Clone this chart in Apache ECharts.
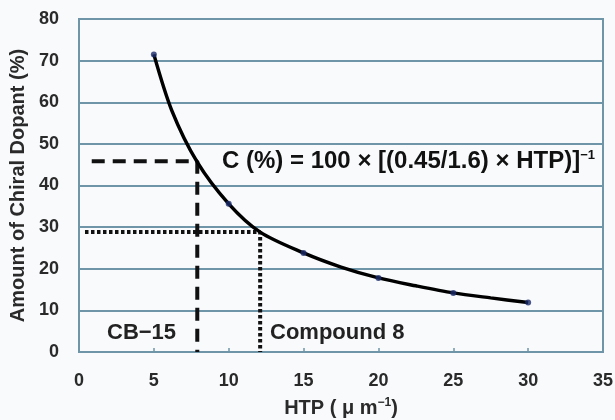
<!DOCTYPE html>
<html><head><meta charset="utf-8">
<script src="https://cdn.jsdelivr.net/npm/echarts@6/dist/echarts.min.js"></script>
<style>html,body{margin:0;padding:0;background:#f8fafc}#c{width:615px;height:420px}</style>
</head><body><div id="c"></div>
<script>
// measured points: HTP (μm^-1) and chiral dopant amount (%)
var htp = [5, 10, 15, 20, 25, 30];
var dopant = [71.5, 35.6, 23.8, 17.8, 14.2, 11.9];
// fitted curve
var curveX = [5, 6.2, 7.9, 10, 12.1, 15, 17.5, 20, 22.5, 25, 27.5, 30];
var curveY = [71.5, 58, 45.6, 35.6, 28.8, 23.8, 20.4, 17.8, 15.9, 14.2, 13.0, 11.9];
// reference guide lines
var cb15Line = [[0.85, 45.8], [7.9, 45.8], [7.9, 0]];
var compound8Line = [[0.4, 28.8], [12.1, 28.8], [12.1, 0]];
var xTicks = [0, 5, 10, 15, 20, 25, 30, 35];
var yTicks = [0, 10, 20, 30, 40, 50, 60, 70, 80];

var font = '"Liberation Sans", Arial, sans-serif';
var gridColor = '#6f95a8';
var chart = echarts.init(document.getElementById('c'));
chart.setOption({
  backgroundColor: '#f8fafc',
  animation: false,
  grid: {left: 79, right: 12, top: 19, bottom: 68, containLabel: false, outerBoundsMode: 'none',
    show: true, borderColor: gridColor, borderWidth: 2, backgroundColor: 'transparent'},
  xAxis: {
    type: 'value', min: xTicks[0], max: xTicks[xTicks.length - 1], interval: 5,
    name: 'HTP ( \u03bc m{s|\u22121})', nameLocation: 'middle', nameGap: 45,
    nameTextStyle: {fontFamily: font, fontWeight: 'bold', fontSize: 20, color: '#2a2a2a',
      rich: {s: {fontSize: 12, fontWeight: 'bold', verticalAlign: 'top', padding: [0, 0, 10, 0], color: '#2a2a2a'}}},
    axisLine: {lineStyle: {color: gridColor, width: 2}},
    axisTick: {show: true, inside: true, length: 4, lineStyle: {color: gridColor, width: 1.5}},
    axisLabel: {fontFamily: font, fontWeight: 'bold', fontSize: 18, color: '#2a2a2a', margin: 20},
    splitLine: {show: false}
  },
  yAxis: {
    type: 'value', min: yTicks[0], max: yTicks[yTicks.length - 1], interval: 10,
    name: 'Amount of Chiral Dopant (%)', nameLocation: 'middle', nameGap: 46,
    nameTextStyle: {fontFamily: font, fontWeight: 'bold', fontSize: 20, color: '#2a2a2a'},
    axisLine: {lineStyle: {color: gridColor, width: 2}},
    axisTick: {show: false},
    axisLabel: {fontFamily: font, fontWeight: 'bold', fontSize: 18, color: '#2a2a2a', margin: 20},
    splitLine: {lineStyle: {color: gridColor, width: 2}}
  },
  series: [
    {type: 'line', data: cb15Line, symbol: 'none', lineStyle: {color: '#111', width: 4, type: [13, 8]}, z: 3},
    {type: 'line', data: compound8Line, symbol: 'none', lineStyle: {color: '#111', width: 4, type: [3.5, 2.5]}, z: 3},
    {type: 'line', data: curveX.map(function (x, i) { return [x, curveY[i]]; }), smooth: 0.3,
      symbol: 'none', lineStyle: {color: '#000', width: 3.5}, z: 4},
    {type: 'scatter', data: htp.map(function (x, i) { return [x, dopant[i]]; }),
      symbol: 'circle', symbolSize: 6, itemStyle: {color: '#1a2a6a'}, z: 5}
  ],
  graphic: [
    {type: 'text', left: 222, top: 149, style: {
      text: 'C (%) = 100 \u00d7 [(0.45/1.6) \u00d7 HTP)]{s|\u22121}',
      font: 'bold 24px ' + font, fill: '#111',
      rich: {s: {font: 'bold 13px ' + font, fill: '#111', verticalAlign: 'top', padding: [0, 0, 12, 0]}}}},
    {type: 'text', left: 107, top: 322, style: {text: 'CB\u221215', font: 'bold 22px ' + font, fill: '#222'}},
    {type: 'text', left: 270, top: 322, style: {text: 'Compound 8', font: 'bold 22px ' + font, fill: '#222'}}
  ]
});
</script></body></html>
